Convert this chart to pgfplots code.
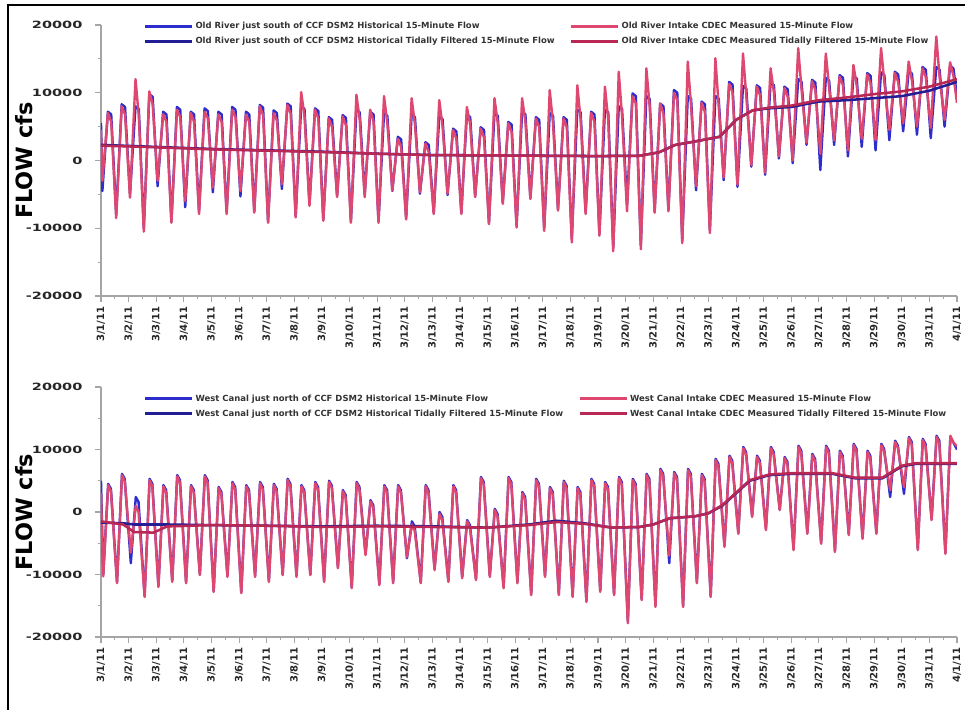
\documentclass[border=0pt]{standalone}
\usepackage{fontspec}
\setmainfont{DejaVu Sans}
\usepackage{pgfplots}
\pgfplotsset{compat=1.18}
\usepackage{pgfplotstable}

\definecolor{histraw}{RGB}{45,45,205}
\definecolor{histfilt}{RGB}{35,30,150}
\definecolor{measraw}{RGB}{222,72,112}
\definecolor{measfilt}{RGB}{185,40,85}
\definecolor{axisgray}{RGB}{165,165,165}

% Old River: time (days after 3/1/11), DSM2 historical, CDEC measured
\pgfplotstableread{
t B R
0.00 5500 4500
0.05 -4500 -3000
0.25 7200 7000
0.37 6800 5700
0.55 -8000 -8500
0.75 8300 8000
0.87 7900 6800
1.05 -5000 -5500
1.25 8000 12000
1.37 7600 6500
1.55 -10000 -10500
1.75 9800 10200
1.87 9400 8300
2.05 -3800 -3000
2.25 7200 6800
2.37 6800 5700
2.55 -9000 -9200
2.75 7900 7500
2.87 7500 6400
3.05 -6900 -6000
3.25 7200 7000
3.37 6800 5700
3.55 -7500 -7900
3.75 7700 7200
3.87 7300 6200
4.05 -4700 -4000
4.25 7200 6800
4.37 6800 5700
4.55 -7600 -7900
4.75 7900 7500
4.87 7500 6400
5.05 -5300 -4500
5.25 7200 6800
5.37 6800 5700
5.55 -7500 -7700
5.75 8200 8000
5.87 7800 6700
6.05 -9000 -9200
6.25 7400 7000
6.37 7000 5900
6.55 -4200 -3500
6.75 8400 8200
6.87 8000 6900
7.05 -8200 -8400
7.25 8000 10100
7.37 7600 6500
7.55 -6500 -6700
7.75 7700 7500
7.87 7300 6200
8.05 -8700 -8900
8.25 6400 6200
8.37 6000 4900
8.55 -5200 -5400
8.75 6700 6500
8.87 6300 5200
9.05 -9000 -9200
9.25 7500 9700
9.37 7100 6000
9.55 -5000 -5400
9.75 7200 7500
9.87 6800 5700
10.05 -9000 -9200
10.25 7000 9500
10.37 6600 5500
10.55 -4500 -4400
10.75 3500 3200
10.87 3100 2000
11.05 -8500 -8700
11.25 6800 9200
11.37 6400 5300
11.55 -4900 -4700
11.75 2700 2500
11.87 2300 1200
12.05 -7700 -7900
12.25 6500 8900
12.37 6100 5000
12.55 -5100 -4900
12.75 4700 4500
12.87 4300 3200
13.05 -7700 -7900
13.25 6800 7900
13.37 6400 5300
13.55 -5300 -5400
13.75 4900 4700
13.87 4500 3400
14.05 -9200 -9400
14.25 7000 9200
14.37 6600 5500
14.55 -6200 -6400
14.75 5700 5500
14.87 5300 4200
15.05 -9600 -9900
15.25 7200 9200
15.37 6800 5700
15.55 -5500 -5700
15.75 6400 6200
15.87 6000 4900
16.05 -10000 -10400
16.25 7000 10400
16.37 6600 5500
16.55 -7200 -7400
16.75 6400 6200
16.87 6000 4900
17.05 -11500 -12100
17.25 7500 11100
17.37 7100 6000
17.55 -7600 -7900
17.75 7200 7000
17.87 6800 5700
18.05 -10800 -11100
18.25 7500 10900
18.37 7100 6000
18.55 -12800 -13400
18.75 8000 13100
18.87 7600 6500
19.05 -6400 -7500
19.25 9900 9500
19.37 9500 8400
19.55 -12500 -13100
19.75 9500 13600
19.87 9100 8000
20.05 -7500 -7700
20.25 8400 8400
20.37 8000 6900
20.55 -7300 -7500
20.75 10400 10000
20.87 10000 8900
21.05 -11800 -12200
21.25 9500 14600
21.37 9100 8000
21.55 -4400 -3800
21.75 8700 8500
21.87 8300 7200
22.05 -10300 -10700
22.25 9500 15100
22.37 9100 8000
22.55 -2900 -2500
22.75 11600 11300
22.87 11200 10100
23.05 -3900 -3600
23.25 11000 15800
23.37 10600 9500
23.55 -900 -700
23.75 11100 10900
23.87 10700 9600
24.05 -2100 -1800
24.25 11500 13600
24.37 11100 10000
24.55 300 600
24.75 10900 10700
24.87 10500 9400
25.05 -400 0
25.25 12000 16600
25.37 11600 10500
25.55 2300 2600
25.75 11900 11700
25.87 11500 10400
26.05 -1400 1000
26.25 12200 15800
26.37 11800 10700
26.55 2300 3000
26.75 12600 12400
26.87 12200 11100
27.05 600 1500
27.25 12500 14100
27.37 12100 11000
27.55 2000 3200
27.75 12900 12700
27.87 12500 11400
28.05 1500 3000
28.25 13000 16600
28.37 12600 11500
28.55 3000 4500
28.75 13100 12900
28.87 12700 11600
29.05 4300 5500
29.25 13200 14600
29.37 12800 11700
29.55 3800 5000
29.75 13800 13600
29.87 13400 12300
30.05 3300 4800
30.25 13800 18300
30.37 13400 12300
30.55 5000 6000
30.75 14000 14500
30.87 13600 12500
31.00 9500 8500
}\oldraw

% Old River tidally filtered flows
\pgfplotstableread{
t B R
0 2300 2200
2 2000 1950
4 1700 1650
6 1500 1450
8 1300 1250
10 1000 1000
12 800 800
14 750 750
16 700 700
18 650 650
19.5 700 700
20.2 1200 1200
20.8 2300 2300
21.5 2800 2800
22.4 3500 3500
23.0 6000 6000
23.6 7400 7400
24.2 7700 7800
25 7900 8100
26 8700 8900
27 8900 9300
28 9200 9800
29 9500 10200
30 10300 10900
31 11600 12000
}\oldfilt

% West Canal: time, DSM2 historical, CDEC measured
\pgfplotstableread{
t B R
0.00 5000 3000
0.08 -10100 -10300
0.26 4500 4300
0.36 3700 3300
0.58 -11200 -11400
0.76 6100 5900
0.86 5300 4900
1.08 -8200 -6500
1.26 2400 1000
1.36 1600 0
1.58 -13400 -13600
1.76 5300 5100
1.86 4500 4100
2.08 -11800 -12000
2.26 4300 4100
2.36 3500 3100
2.58 -11000 -11200
2.76 5900 5700
2.86 5100 4700
3.08 -11200 -11400
3.26 4300 4100
3.36 3500 3100
3.58 -10000 -10100
3.76 5900 5700
3.86 5100 4700
4.08 -12600 -12800
4.26 4000 3800
4.36 3200 2800
4.58 -10200 -10400
4.76 4800 4600
4.86 4000 3600
5.08 -12800 -13000
5.26 4300 4100
5.36 3500 3100
5.58 -10200 -10400
5.76 4800 4600
5.86 4000 3600
6.08 -11000 -11200
6.26 4500 4300
6.36 3700 3300
6.58 -10000 -10100
6.76 5300 5100
6.86 4500 4100
7.08 -10200 -10400
7.26 4300 4100
7.36 3500 3100
7.58 -10000 -10100
7.76 4800 4600
7.86 4000 3600
8.08 -11000 -11200
8.26 5000 4800
8.36 4200 3800
8.58 -8800 -9000
8.76 3500 3300
8.86 2700 2300
9.08 -12000 -12200
9.26 4800 4600
9.36 4000 3600
9.58 -6700 -6900
9.76 1900 1700
9.86 1100 700
10.08 -11500 -11700
10.26 4300 4100
10.36 3500 3100
10.58 -11200 -11400
10.76 4300 4100
10.86 3500 3100
11.08 -7400 -7200
11.26 -1500 -2000
11.36 -2300 -3000
11.58 -11200 -11400
11.76 4300 4100
11.86 3500 3100
12.08 -9100 -9300
12.26 0 -300
12.36 -800 -1300
12.58 -11000 -11200
12.76 4300 4100
12.86 3500 3100
13.08 -10400 -10600
13.26 -1300 -1500
13.36 -2100 -2500
13.58 -10700 -10900
13.76 5600 5400
13.86 4800 4400
14.08 -10200 -10400
14.26 500 300
14.36 -300 -700
14.58 -12000 -12200
14.76 5600 5400
14.86 4800 4400
15.08 -11200 -11400
15.26 3200 3000
15.36 2400 2000
15.58 -13100 -13300
15.76 5300 5100
15.86 4500 4100
16.08 -10200 -10400
16.26 4000 3800
16.36 3200 2800
16.58 -13100 -13300
16.76 5000 4800
16.86 4200 3800
17.08 -13400 -13600
17.26 4000 3800
17.36 3200 2800
17.58 -14200 -14400
17.76 5300 5100
17.86 4500 4100
18.08 -12600 -12800
18.26 4800 4600
18.36 4000 3600
18.58 -13100 -13300
18.76 5600 5400
18.86 4800 4400
19.08 -17500 -17800
19.26 5300 5100
19.36 4500 4100
19.58 -13900 -14100
19.76 6100 5900
19.86 5300 4900
20.08 -15000 -15200
20.26 6900 6700
20.36 6100 5700
20.58 -8200 -7000
20.76 6400 6200
20.86 5600 5200
21.08 -15000 -15200
21.26 6900 6700
21.36 6100 5700
21.58 -11200 -11400
21.76 6100 5900
21.86 5300 4900
22.08 -13400 -13600
22.26 8500 8300
22.36 7700 7300
22.58 -5400 -5600
22.76 9000 8800
22.86 8200 7800
23.08 -3300 -3500
23.26 10400 10200
23.36 9600 9200
23.58 -600 -800
23.76 9000 8800
23.86 8200 7800
24.08 -2700 -2900
24.26 10400 10200
24.36 9600 9200
24.58 400 300
24.76 8800 8600
24.86 8000 7600
25.08 -5900 -6100
25.26 10600 10400
25.36 9800 9400
25.58 -3300 -3500
25.76 9300 9100
25.86 8500 8100
26.08 -4900 -5100
26.26 10600 10400
26.36 9800 9400
26.58 -6200 -6400
26.76 9800 9600
26.86 9000 8600
27.08 -3500 -3700
27.26 10900 10700
27.36 10100 9700
27.58 -4100 -4300
27.76 9800 9600
27.86 9000 8600
28.08 -3300 -3500
28.26 10900 10700
28.36 10100 9700
28.58 2400 3500
28.76 11400 11200
28.86 10600 10200
29.08 2900 4000
29.26 12000 11800
29.36 11200 10800
29.58 -5900 -6100
29.76 11700 11500
29.86 10900 10500
30.08 -1100 -1300
30.26 12200 12000
30.36 11400 11000
30.58 -6500 -6700
30.76 12000 12200
30.86 11200 11200
31.00 10000 10500
}\westraw

% West Canal tidally filtered flows
\pgfplotstableread{
t B R
0 -1700 -1500
0.8 -1800 -2000
1.2 -2000 -3200
1.9 -2000 -3300
2.4 -2000 -2300
4 -2100 -2100
6 -2200 -2200
8 -2300 -2400
10 -2200 -2300
12 -2300 -2400
14 -2500 -2500
15.5 -2000 -2100
16.5 -1400 -1600
17.5 -1800 -1900
18.5 -2500 -2500
19.5 -2400 -2400
20.0 -2000 -2000
20.6 -1000 -1000
21.5 -700 -700
22.0 -200 -200
22.5 1000 1100
23.0 3000 3100
23.5 5000 5100
24.2 5900 6000
25 6100 6200
26.5 6100 6200
27.3 5400 5500
28.3 5400 5500
29.0 7300 7400
29.5 7700 7800
31 7700 7800
}\westfilt

\pgfplotsset{
  flowaxis/.style={
    scale only axis, width=642pt,
    xmin=0, xmax=31, ymin=-20000, ymax=20000,
    axis x line*=bottom, axis y line*=left,
    axis line style={draw=axisgray, line width=0.9pt},
    xtick={0,...,31}, minor x tick num=1,
    xticklabels={3/1/11,3/2/11,3/3/11,3/4/11,3/5/11,3/6/11,3/7/11,3/8/11,3/9/11,3/10/11,3/11/11,3/12/11,3/13/11,3/14/11,3/15/11,3/16/11,3/17/11,3/18/11,3/19/11,3/20/11,3/21/11,3/22/11,3/23/11,3/24/11,3/25/11,3/26/11,3/27/11,3/28/11,3/29/11,3/30/11,3/31/11,4/1/11},
    ytick={-20000,-10000,0,10000,20000},
    yticklabels={-20000,-10000,0,10000,20000},
    scaled y ticks=false,
    minor y tick num=1,
    tick align=outside, major tick length=4.5pt, minor tick length=2.5pt,
    tick style={draw=axisgray, line width=0.8pt},
    ticklabel style={font=\fontsize{7.5}{8}\selectfont\bfseries, text=black!85},
    x tick label style={rotate=90, anchor=east},
    y tick label style={anchor=east, xscale=1.45, xshift=-3pt},
    every axis y label/.style={at={(axis description cs:0,0.5)}, xshift=-57.75pt,
      rotate=90, anchor=center, font=\fontsize{16.8}{18}\selectfont\bfseries},
    legend columns=2,
    legend cell align=left,
    legend style={draw=none, fill=none, font=\fontsize{6.35}{7.5}\selectfont\bfseries,
      text=black!80, at={(axis description cs:0,1)}, anchor=north west,
      xshift=29pt, row sep=2pt,
      nodes={inner sep=1.5pt},
      /tikz/every even column/.append style={column sep=10pt}},
    legend image code/.code={\draw[#1, line width=2.2pt] (0pt,0pt) -- (35pt,0pt);},
    rawline/.style={line width=1.8pt, line join=round},
    filtline/.style={line width=1.9pt},
  }
}

\begin{document}
\begin{tikzpicture}
\useasboundingbox (0,0) rectangle (723.75pt,532.5pt);

\begin{axis}[flowaxis, at={(75.75pt,310.5pt)}, anchor=south west,
  height=203.25pt, ylabel={FLOW cfs}, legend style={yshift=6pt}]
\addplot[histraw, rawline] table[x=t, y=B] {\oldraw};
\addlegendentry{Old River just south of CCF DSM2 Historical 15-Minute Flow}
\addplot[measraw, rawline] table[x=t, y=R] {\oldraw};
\addlegendentry{Old River Intake CDEC Measured 15-Minute Flow}
\addplot[histfilt, filtline] table[x=t, y=B] {\oldfilt};
\addlegendentry{Old River just south of CCF DSM2 Historical Tidally Filtered 15-Minute Flow}
\addplot[measfilt, filtline] table[x=t, y=R] {\oldfilt};
\addlegendentry{Old River Intake CDEC Measured Tidally Filtered 15-Minute Flow}
\end{axis}

\begin{axis}[flowaxis, at={(75.75pt,54.75pt)}, anchor=south west,
  height=187.5pt, ylabel={FLOW cfs}, legend style={yshift=-2pt}]
\addplot[histraw, rawline] table[x=t, y=B] {\westraw};
\addlegendentry{West Canal just north of CCF DSM2 Historical 15-Minute Flow}
\addplot[measraw, rawline] table[x=t, y=R] {\westraw};
\addlegendentry{West Canal Intake CDEC Measured 15-Minute Flow}
\addplot[histfilt, filtline] table[x=t, y=B] {\westfilt};
\addlegendentry{West Canal just north of CCF DSM2 Historical Tidally Filtered 15-Minute Flow}
\addplot[measfilt, filtline] table[x=t, y=R] {\westfilt};
\addlegendentry{West Canal Intake CDEC Measured Tidally Filtered 15-Minute Flow}
\end{axis}

% outer frame
\draw[line width=1.5pt] (6pt,0pt) -- (6pt,528.75pt) -- (723.75pt,528.75pt);
\end{tikzpicture}
\end{document}
